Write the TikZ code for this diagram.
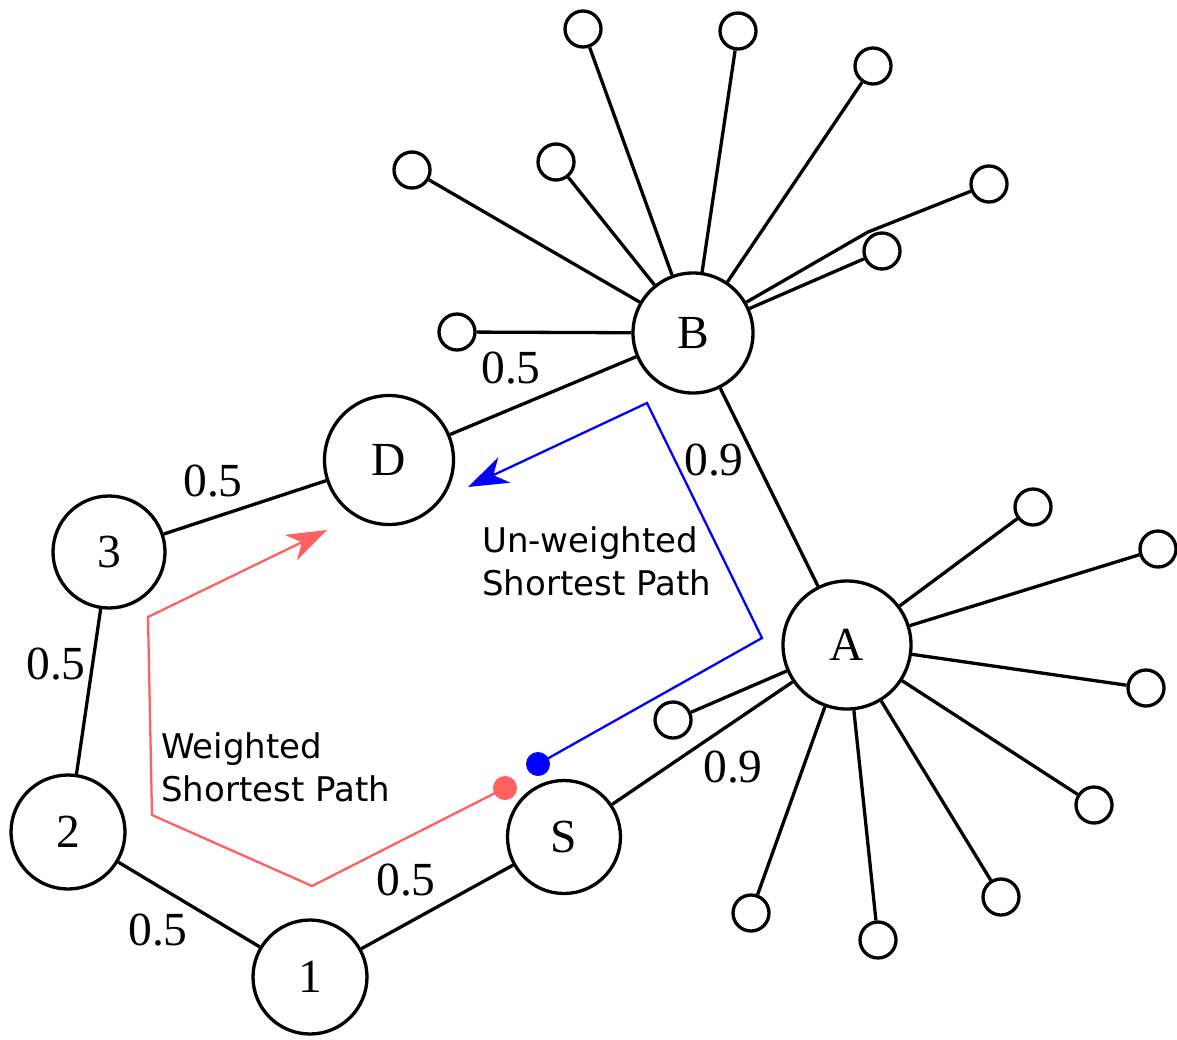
\documentclass[tikz,border=0pt]{standalone}
\usepackage{fontspec}
\setmainfont{Liberation Serif}
\newfontfamily\pathfont{DejaVu Sans}
\usetikzlibrary{arrows.meta}
\definecolor{pathred}{RGB}{255,96,96}
\begin{document}
\begin{tikzpicture}[x=1pt,y=-1pt,
  hub/.style={circle,draw,line width=3.3pt,inner sep=0pt,font=\fontsize{47.5}{50}\selectfont},
  leaf/.style={circle,draw,line width=3.3pt,minimum size=36pt,inner sep=0pt},
  edge/.style={line width=3.3pt},
  wt/.style={font=\fontsize{47.5}{50}\selectfont,inner sep=0pt},
  caption/.style={font=\pathfont\fontsize{34}{43}\selectfont,align=left,inner sep=0pt},
  tip/.style={-{Stealth[length=40pt,width=28pt,inset=12pt]}},
  upath/.style={draw=blue,line width=2.3pt,line join=miter},
  wpath/.style={draw=pathred,line width=2.3pt,line join=miter},
  dot/.style={circle,inner sep=0pt,minimum size=24pt}]
\useasboundingbox (0,0) rectangle (1177,1039);

% main vertices
\node[hub,minimum size=120pt] (B) at (693,333) {B};
\node[hub,minimum size=129pt] (D) at (389,460) {D};
\node[hub,minimum size=112pt] (n3) at (109,552) {3};
\node[hub,minimum size=114pt] (n2) at (68,832) {2};
\node[hub,minimum size=114pt] (n1) at (310,977) {1};
\node[hub,minimum size=113pt] (S) at (564,837) {S};
\node[hub,minimum size=128pt] (A) at (847,645) {A};

% leaves around B
\node[leaf] (b1) at (583,29) {};
\node[leaf] (b2) at (738,31) {};
\node[leaf] (b3) at (873,66) {};
\node[leaf] (b4) at (989,184) {};
\node[leaf] (b5) at (882,251) {};
\node[leaf] (b6) at (556,162) {};
\node[leaf] (b7) at (412,170) {};
\node[leaf] (b8) at (457,332) {};
\coordinate (bk) at (868,232);

% leaves around A
\node[leaf] (a1) at (1033,507) {};
\node[leaf] (a2) at (1158,549) {};
\node[leaf] (a3) at (1146,688) {};
\node[leaf] (a4) at (1094,805) {};
\node[leaf] (a5) at (1001,897) {};
\node[leaf] (a6) at (878,940) {};
\node[leaf] (a7) at (751,913) {};
\node[leaf] (a8) at (673,720) {};

% star edges
\foreach \l in {b1,b2,b3,b5,b6,b7,b8} \draw[edge] (B) -- (\l);
\draw[edge,line join=miter] (B) -- (bk) -- (b4);
\foreach \l in {a1,a2,a3,a4,a5,a6,a7,a8} \draw[edge] (A) -- (\l);

% weighted edges
\draw[edge] (B) -- (D);
\draw[edge] (D) -- (n3);
\draw[edge] (n3) -- (n2);
\draw[edge] (n2) -- (n1);
\draw[edge] (n1) -- (S);
\draw[edge] (S) -- (A);
\draw[edge] (B) -- (A);

% edge weights
\node[wt] (w1) at (511,368) {0.5};
\node[wt] (w2) at (213,481) {0.5};
\node[wt] (w3) at (56,664) {0.5};
\node[wt] (w4) at (158,930) {0.5};
\node[wt] (w5) at (406,880) {0.5};
\node[wt] (w6) at (733,767) {0.9};
\node[wt] (w7) at (714,460) {0.9};

% un-weighted route
\node[dot,fill=blue] (ud) at (538,764) {};
\coordinate (u1) at (762,638);
\coordinate (u2) at (647,403);
\coordinate (u3) at (468,487);
\draw[upath,tip] (ud.center) -- (u1) -- (u2) -- (u3);

% weighted route
\node[dot,fill=pathred] (wd) at (505,788) {};
\coordinate (r1) at (312,886);
\coordinate (r2) at (152,815);
\coordinate (r3) at (148,617);
\coordinate (r4) at (327,530);
\draw[wpath,tip] (wd.center) -- (r1) -- (r2) -- (r3) -- (r4);

% captions
\node[caption,anchor=north west] (ucap) at (482,526) {Un-weighted\\Shortest Path};
\node[caption,anchor=north west] (wcap) at (161,732) {Weighted\\Shortest Path};
\end{tikzpicture}
\end{document}
